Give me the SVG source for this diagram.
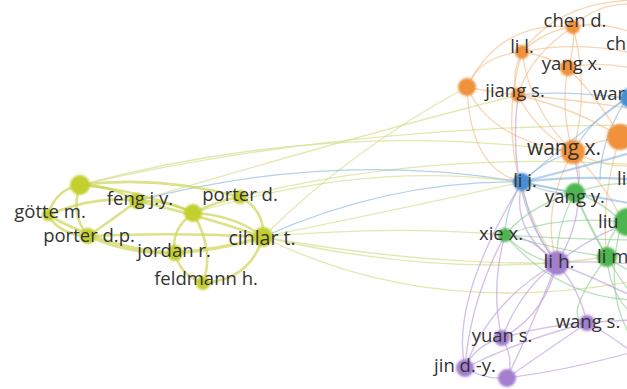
<svg xmlns="http://www.w3.org/2000/svg" width="627" height="389" viewBox="0 0 627 389">
<defs>
<style>
.e{fill:none;stroke-linecap:round}
.ey{stroke:#ccd655;stroke-width:2.6;opacity:.7}
.ely{stroke:#d6de8e;stroke-width:1.3;opacity:.7}
.eo{stroke:#f2ba82;stroke-width:1.3;opacity:.6}
.eb{stroke:#84b3dd;stroke-width:1.3;opacity:.6}
.eg{stroke:#8ccb90;stroke-width:1.3;opacity:.6}
.ep{stroke:#bea2da;stroke-width:1.4;opacity:.65}
.ny{fill:#c3cf2e}
.no{fill:#f0913a}
.nb{fill:#4a8ed0}
.ng{fill:#4db54f}
.np{fill:#a47fd0}
.n circle{filter:url(#soft)}
text{font-family:"Open Sans","DejaVu Sans",sans-serif;font-size:18.5px;fill:#333333;text-anchor:middle}
.s{text-anchor:start}
</style>
<filter id="soft" x="-30%" y="-30%" width="160%" height="160%"><feGaussianBlur stdDeviation="1"/></filter>
</defs>
<rect width="627" height="389" fill="#ffffff"/>
<g id="connectors" class="e">
<!-- long yellow -->
<path class="ely" d="M80,185 Q330,118 573,152"/>
<path class="ely" d="M80,185 Q340,125 640,125"/>
<path class="ely" d="M137,201 Q360,135 518,95"/>
<path class="ely" d="M263,237 Q350,150 467,87"/>
<path class="ely" d="M193,213 Q400,150 575,193"/>
<path class="ely" d="M263,237 Q390,225 505,235"/>
<path class="ely" d="M263,237 Q420,205 522,182"/>
<path class="ely" d="M263,237 Q420,265 557,263"/>
<path class="ely" d="M263,237 Q430,320 640,280"/>
<path class="ely" d="M240,197 Q430,150 640,165"/>
<path class="ely" d="M263,237 Q450,280 607,257"/>
<path class="eb" d="M137,201 Q330,150 522,182"/>
<path class="eb" d="M263,237 Q390,180 522,182"/>
<!-- yellow intra -->
<path class="ey" d="M80,185 Q110,185 137,201"/>
<path class="ey" d="M80,185 Q55,190 48,215"/>
<path class="ey" d="M80,185 Q70,215 88,236"/>
<path class="ey" d="M80,185 Q160,175 240,197"/>
<path class="ey" d="M80,185 Q140,190 193,213"/>
<path class="ey" d="M137,201 Q170,200 193,213"/>
<path class="ey" d="M137,201 Q95,195 48,215"/>
<path class="ey" d="M137,201 Q105,225 88,236"/>
<path class="ey" d="M137,201 Q200,215 263,237"/>
<path class="ey" d="M193,213 Q220,200 240,197"/>
<path class="ey" d="M193,213 Q235,215 263,237"/>
<path class="ey" d="M193,213 Q170,230 175,253"/>
<path class="ey" d="M48,215 Q60,235 88,236"/>
<path class="ey" d="M48,215 Q110,250 175,253"/>
<path class="ey" d="M88,236 Q130,255 175,253"/>
<path class="ey" style="stroke-width:3.4" d="M175,253 Q220,250 263,237"/>
<path class="ey" d="M175,253 Q180,275 203,283"/>
<path class="ey" d="M263,237 Q250,280 203,283"/>
<path class="ey" d="M240,197 Q265,210 263,237"/>
<path class="ey" d="M88,236 Q180,232 263,237"/>
<path class="ey" d="M193,213 Q215,250 203,283"/>
<!-- orange -->
<path class="eo" d="M573,27 Q545,30 522,52"/>
<path class="eo" d="M573,27 Q575,48 568,68"/>
<path class="eo" d="M573,27 Q590,90 573,152"/>
<path class="eo" d="M573,27 Q600,20 640,35"/>
<path class="eo" d="M573,27 Q600,0 640,5"/>
<path class="eo" d="M573,27 Q530,55 518,95"/>
<path class="eo" d="M522,52 Q545,55 568,68"/>
<path class="eo" d="M522,52 Q510,75 518,95"/>
<path class="eo" d="M522,52 Q530,110 573,152"/>
<path class="eo" d="M522,52 Q580,40 640,55"/>
<path class="eo" d="M522,52 Q560,0 640,0"/>
<path class="eo" d="M522,52 Q480,55 467,87"/>
<path class="eo" d="M522,52 Q490,160 557,263"/>
<path class="eo" d="M568,68 Q560,110 573,152"/>
<path class="eo" d="M568,68 Q600,60 640,70"/>
<path class="eo" d="M568,68 Q600,100 620,137"/>
<path class="eo" d="M518,95 Q535,130 573,152"/>
<path class="eo" d="M518,95 Q580,100 640,110"/>
<path class="eo" d="M518,95 Q580,110 620,137"/>
<path class="eo" d="M467,87 Q490,92 518,95"/>
<path class="eo" d="M467,87 Q490,140 573,152"/>
<path class="eo" d="M467,87 Q500,20 573,27"/>
<path class="eo" d="M467,87 Q470,170 522,182"/>
<path class="eo" d="M573,152 Q600,140 620,137"/>
<path class="eo" d="M573,152 Q610,170 640,165"/>
<path class="eo" d="M573,152 Q585,175 575,193"/>
<path class="eo" d="M573,152 Q610,190 622,222"/>
<path class="eo" d="M573,152 Q540,210 557,263"/>
<path class="eo" d="M620,137 Q600,200 607,257"/>
<!-- blue -->
<path class="eb" style="stroke-width:2.2" d="M522,182 Q580,175 640,180"/>
<path class="eb" style="stroke-width:2" d="M522,182 Q590,165 640,150"/>
<path class="eb" style="stroke-width:2" d="M522,182 Q580,195 640,205"/>
<path class="eb" d="M522,182 Q570,140 627,98"/>
<path class="eb" d="M522,182 Q545,160 573,152"/>
<path class="eb" d="M522,182 Q550,195 575,193"/>
<path class="eb" d="M522,182 Q505,210 505,235"/>
<path class="eb" d="M522,182 Q530,230 557,263"/>
<path class="eb" d="M627,98 Q590,120 573,152"/>
<path class="eb" d="M627,98 Q600,140 600,180"/>
<path class="eb" d="M627,98 Q560,90 518,95"/>
<!-- green -->
<path class="eg" d="M575,193 Q600,200 622,222"/>
<path class="eg" d="M575,193 Q590,230 607,257"/>
<path class="eg" d="M575,193 Q555,230 557,263"/>
<path class="eg" d="M575,193 Q530,205 505,235"/>
<path class="eg" d="M575,193 Q610,180 640,185"/>
<path class="eg" d="M575,193 Q620,290 640,300"/>
<path class="eg" d="M505,235 Q560,215 622,222"/>
<path class="eg" d="M505,235 Q560,250 607,257"/>
<path class="eg" d="M505,235 Q530,260 557,263"/>
<path class="eg" d="M505,235 Q580,240 640,240"/>
<path class="eg" d="M505,235 Q560,300 640,300"/>
<path class="eg" d="M622,222 Q605,240 607,257"/>
<path class="eg" d="M607,257 Q625,270 640,275"/>
<path class="eg" d="M607,257 Q610,300 640,320"/>
<path class="eg" d="M622,222 Q600,300 640,350"/>
<path class="eg" d="M607,257 Q560,320 587,323"/>
<!-- purple -->
<path class="ep" d="M557,263 Q520,290 502,338"/>
<path class="ep" d="M557,263 Q545,315 502,338"/>
<path class="ep" d="M557,263 Q580,290 587,323"/>
<path class="ep" d="M557,263 Q490,300 465,368"/>
<path class="ep" d="M557,263 Q530,330 507,378"/>
<path class="ep" d="M557,263 Q600,260 640,265"/>
<path class="ep" d="M557,263 Q600,280 640,300"/>
<path class="ep" d="M557,263 Q600,230 640,220"/>
<path class="ep" d="M557,263 Q510,230 522,182"/>
<path class="ep" d="M557,263 Q505,200 518,95"/>
<path class="ep" d="M557,263 Q590,210 573,152"/>
<path class="ep" d="M557,263 Q530,235 505,235"/>
<path class="ep" d="M502,338 Q475,345 465,368"/>
<path class="ep" d="M502,338 Q515,360 507,378"/>
<path class="ep" d="M465,368 Q485,380 507,378"/>
<path class="ep" d="M587,323 Q545,325 502,338"/>
<path class="ep" d="M587,323 Q520,340 465,368"/>
<path class="ep" d="M587,323 Q540,355 507,378"/>
<path class="ep" d="M587,323 Q615,320 640,320"/>
<path class="ep" d="M587,323 Q620,340 640,360"/>
<path class="ep" d="M502,338 Q490,290 505,235"/>
<path class="ep" d="M465,368 Q470,300 505,235"/>
<path class="ep" d="M507,378 Q570,370 640,350"/>
<path class="ep" d="M465,368 Q450,300 522,182"/>
</g>
<g id="n-top" class="n ny"><circle cx="80" cy="185" r="10"/></g>
<g id="n-feng" class="n ny"><circle cx="137" cy="201" r="8"/><text x="140" y="205">feng j.y.</text></g>
<g id="n-gotte" class="n ny"><circle cx="48" cy="215" r="6"/><text x="50" y="218">götte m.</text></g>
<g id="n-mid" class="n ny"><circle cx="193" cy="213" r="9"/></g>
<g id="n-porterd" class="n ny"><circle cx="240" cy="197" r="7"/><text x="240" y="201">porter d.</text></g>
<g id="n-porterdp" class="n ny"><circle cx="88" cy="236" r="8"/><text x="89" y="242">porter d.p.</text></g>
<g id="n-jordan" class="n ny"><circle cx="175" cy="253" r="8"/><text x="174" y="257">jordan r.</text></g>
<g id="n-cihlar" class="n ny"><circle cx="263" cy="237" r="10"/><text x="262" y="245" style="font-size:19.5px">cihlar t.</text></g>
<g id="n-feldmann" class="n ny"><circle cx="203" cy="283" r="7"/><text x="206" y="285">feldmann h.</text></g>
<g id="n-o0" class="n no"><circle cx="467" cy="87" r="9"/></g>
<g id="n-chen" class="n no"><circle cx="573" cy="27" r="7"/><text x="575" y="27">chen d.</text></g>
<g id="n-lil" class="n no"><circle cx="522" cy="52" r="7"/><text x="522" y="53">li l.</text></g>
<g id="n-ch" class="n"><text class="s" x="606" y="50">ch</text></g>
<g id="n-yangx" class="n no"><circle cx="568" cy="68" r="8"/><text x="572" y="70">yang x.</text></g>
<g id="n-jiang" class="n no"><circle cx="518" cy="95" r="7"/><text x="515" y="97">jiang s.</text></g>
<g id="n-war" class="n nb"><circle cx="630" cy="98" r="10"/><text class="s" x="593" y="100">war</text></g>
<g id="n-oR" class="n no"><circle cx="620" cy="137" r="13"/></g>
<g id="n-wangx" class="n no"><circle cx="573" cy="152" r="12"/><text x="564" y="155" style="font-size:21px">wang x.</text></g>
<g id="n-lij" class="n nb"><circle cx="522" cy="182" r="9"/><text x="525" y="187">li j.</text></g>
<g id="n-li" class="n"><text class="s" x="617" y="185">li</text></g>
<g id="n-yangy" class="n ng"><circle cx="575" cy="193" r="10"/><text x="575" y="203">yang y.</text></g>
<g id="n-liu" class="n ng"><circle cx="628" cy="222" r="14"/><text class="s" x="598" y="228">liu</text></g>
<g id="n-xie" class="n ng"><circle cx="505" cy="235" r="7"/><text x="501" y="240">xie x.</text></g>
<g id="n-lim" class="n ng"><circle cx="607" cy="257" r="10"/><text class="s" x="597" y="263">li m</text></g>
<g id="n-lih" class="n np"><circle cx="557" cy="263" r="12"/><text x="559" y="268" style="font-size:19px">li h.</text></g>
<g id="n-wangs" class="n np"><circle cx="587" cy="323" r="8"/><text x="588" y="328">wang s.</text></g>
<g id="n-yuan" class="n np"><circle cx="502" cy="338" r="8"/><text x="502" y="342">yuan s.</text></g>
<g id="n-jin" class="n np"><circle cx="465" cy="368" r="9"/><text x="465" y="372">jin d.-y.</text></g>
<g id="n-pu" class="n np"><circle cx="507" cy="378" r="9"/></g>
</svg>
